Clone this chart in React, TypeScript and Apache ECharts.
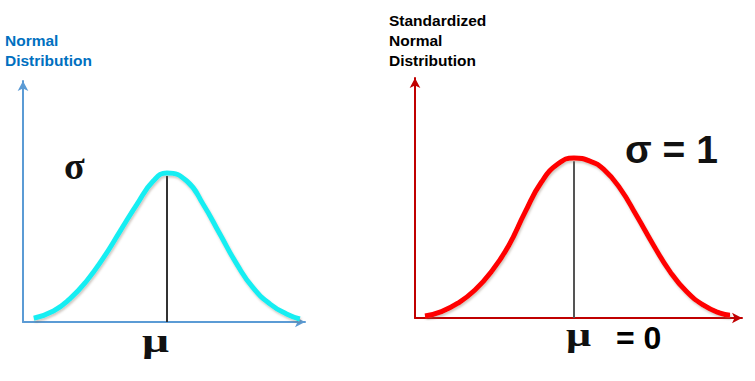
import React, { useEffect, useRef } from "react";
import * as echarts from "echarts";

// Left curve: x positions (in sigma units) and relative heights (peak = 1)
const normalX = [-3.1, -2.64, -2.26, -1.87, -1.48, -1.09, -0.7, -0.32, 0, 0.46, 0.84, 1.23, 1.62, 2.0, 2.4, 2.78, 3.09];
const normalHeights = [0.025, 0.074, 0.155, 0.275, 0.43, 0.61, 0.79, 0.946, 1, 0.946, 0.79, 0.59, 0.39, 0.23, 0.12, 0.054, 0.02];

// Right curve: x positions and relative heights
const standardX = [-2.98, -2.65, -2.31, -1.98, -1.65, -1.31, -0.98, -0.65, -0.31, 0, 0.32, 0.59, 0.92, 1.25, 1.59, 1.92, 2.25, 2.59, 2.92, 3.12];
const standardHeights = [0.0125, 0.04, 0.095, 0.175, 0.29, 0.45, 0.66, 0.85, 0.965, 1, 0.98, 0.93, 0.81, 0.64, 0.455, 0.29, 0.165, 0.08, 0.03, 0.017];

const leftTitle = ["Normal", "Distribution"];
const rightTitle = ["Standardized", "Normal", "Distribution"];

export default function App() {
  const ref = useRef<HTMLDivElement>(null);
  useEffect(() => {
    document.body.style.margin = "0";
    const chart = echarts.init(ref.current!, undefined, { renderer: "svg" });
    const pts = (xs: number[], ys: number[]) => xs.map((x, i) => [x, ys[i]]);
    const axisCommon = {
      type: "value" as const,
      axisLabel: { show: false },
      axisTick: { show: false },
      splitLine: { show: false },
    };
    const leftAxisLine = {
      show: true,
      onZero: false,
      symbol: ["none", "arrow"],
      symbolSize: [8, 10],
      lineStyle: { color: "#5B9BD5", width: 2 },
    };
    const rightAxisLine = {
      show: true,
      onZero: false,
      symbol: ["none", "arrow"],
      symbolSize: [8, 10],
      lineStyle: { color: "#C00000", width: 2 },
    };
    const sans = "'Liberation Sans', Arial, sans-serif";
    const serif = "'Liberation Serif', 'Times New Roman', serif";
    const shadow = {
      shadowColor: "rgba(120,100,80,0.35)",
      shadowBlur: 2,
      shadowOffsetX: 1,
      shadowOffsetY: 2,
    };
    chart.setOption({
      animation: false,
      backgroundColor: "#ffffff",
      grid: [
        { left: 23, top: 81, width: 282, height: 241 },
        { left: 415, top: 78, width: 327, height: 240 },
      ],
      xAxis: [
        { ...axisCommon, gridIndex: 0, min: -3.35, max: 3.21, axisLine: leftAxisLine },
        { ...axisCommon, gridIndex: 1, min: -3.18, max: 3.36, axisLine: rightAxisLine },
      ],
      yAxis: [
        { ...axisCommon, gridIndex: 0, min: 0, max: 1.617, axisLine: leftAxisLine },
        { ...axisCommon, gridIndex: 1, min: 0, max: 1.5, axisLine: rightAxisLine },
      ],
      series: [
        {
          type: "line",
          xAxisIndex: 0,
          yAxisIndex: 0,
          data: [[0, 0], [0, 0.98]],
          symbol: "none",
          lineStyle: { color: "#333333", width: 2 },
        },
        {
          type: "line",
          xAxisIndex: 0,
          yAxisIndex: 0,
          data: pts(normalX, normalHeights),
          smooth: 0.5,
          symbol: "none",
          lineStyle: { color: "#18EEF2", width: 5, ...shadow },
        },
        {
          type: "line",
          xAxisIndex: 1,
          yAxisIndex: 1,
          data: [[0, 0], [0, 0.98]],
          symbol: "none",
          lineStyle: { color: "#555555", width: 2 },
        },
        {
          type: "line",
          xAxisIndex: 1,
          yAxisIndex: 1,
          data: pts(standardX, standardHeights),
          smooth: 0.5,
          symbol: "none",
          lineStyle: { color: "#FF0000", width: 5, ...shadow },
        },
      ],
      graphic: [
        ...leftTitle.map((t, i) => ({
          type: "text",
          left: 5,
          top: 32 + i * 20,
          style: { text: t, fill: "#0070C0", font: `bold 15.5px ${sans}` },
        })),
        ...rightTitle.map((t, i) => ({
          type: "text",
          left: 389,
          top: 12 + i * 20,
          style: { text: t, fill: "#000000", font: `bold 15.5px ${sans}` },
        })),
        {
          type: "text",
          left: 64,
          top: 147,
          style: { text: "σ", fill: "#111111", font: `bold 38px ${serif}` },
        },
        {
          type: "text",
          left: 142,
          top: 323,
          scaleX: 1.4,
          style: { text: "μ", fill: "#111111", font: `bold 34px ${serif}` },
        },
        {
          type: "text",
          left: 625,
          top: 130,
          style: { text: "σ = 1", fill: "#111111", font: `bold 39px ${sans}` },
        },
        {
          type: "text",
          left: 566,
          top: 318,
          scaleX: 1.3,
          style: { text: "μ", fill: "#111111", font: `bold 34px ${serif}` },
        },
        {
          type: "text",
          left: 616,
          top: 322,
          style: { text: "= 0", fill: "#000000", font: `bold 32px ${sans}` },
        },
      ],
    });
    return () => chart.dispose();
  }, []);
  return <div ref={ref} style={{ width: 755, height: 381 }} />;
}
